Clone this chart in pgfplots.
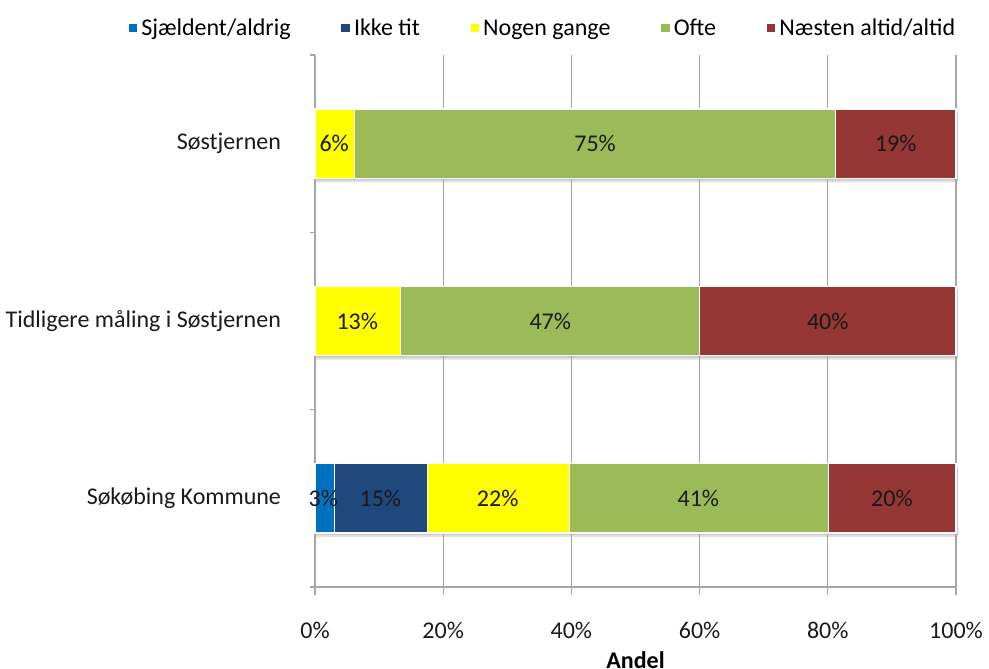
\documentclass[border=0pt]{standalone}
\usepackage{pgfplots}
\pgfplotsset{compat=1.18}
\usepackage{fontspec}
\setmainfont{Carlito}
\definecolor{cA}{HTML}{0070C0}
\definecolor{cB}{HTML}{1F497D}
\definecolor{cC}{HTML}{FFFF00}
\definecolor{cD}{HTML}{9BBB59}
\definecolor{cE}{HTML}{953735}
\definecolor{gridc}{HTML}{A6A6A6}
\definecolor{txt}{HTML}{1A1A1A}
\pgfplotsset{commonax/.style={
  at={(236.25pt,60.75pt)}, anchor=south west,
  scale only axis, width=480.75pt, height=399pt,
  xmin=0, xmax=100, ymin=-0.5, ymax=2.5}}
\begin{document}
\begin{tikzpicture}
\begin{axis}[commonax, hide axis, clip=false, xbar, bar width=52pt]
\addplot[draw=none, fill=black, fill opacity=0.12, bar shift=-3pt] coordinates {(100.3,0) (100.3,1) (100.3,2)};
\addplot[draw=none, fill=black, fill opacity=0.10, bar shift=-1.5pt] coordinates {(100.3,0) (100.3,1) (100.3,2)};
\end{axis}
\begin{axis}[commonax,
  xbar stacked, bar width=52pt,
  axis x line*=bottom, axis y line*=left,
  axis line style={draw=gridc, line width=0.8pt},
  xtick={0,20,40,60,80,100},
  xticklabel={\pgfmathprintnumber{\tick}\%},
  /pgf/number format/assume math mode=true,
  xmajorgrids, grid style={draw=gridc, line width=0.8pt},
  tick align=outside, major tick length=6pt,
  tick style={draw=gridc, line width=0.8pt},
  ytick={0,1,2},
  yticklabels={Søkøbing Kommune, Tidligere måling i Søstjernen, Søstjernen},
  y tick style={draw=none},
  extra y ticks={-0.5,0.5,1.5,2.5}, extra y tick labels={},
  extra y tick style={y tick style={draw=gridc}, major tick length=4pt, grid=none},
  ticklabel style={font=\fontsize{18}{21}\selectfont, text=txt},
  xticklabel style={yshift=-17pt},
  yticklabel style={xshift=-16pt},
  xlabel={\textbf{Andel}}, xlabel style={font=\fontsize{18}{21}\selectfont, yshift=-3pt},
  legend style={draw=none, at={(0.355,1.05)}, anchor=center, legend columns=5,
    font=\fontsize{18}{21}\selectfont,
    /tikz/every even column/.append style={column sep=35pt}},
  legend image code/.code={\fill[#1] (0pt,-3.5pt) rectangle (7.5pt,4pt);},
  every axis plot/.append style={draw=white, line width=1pt},
  clip=false,
]
\addplot[fill=cA] coordinates {(3.0,0) (0,1) (0,2)};
\addplot[fill=cB] coordinates {(14.5,0) (0,1) (0,2)};
\addplot[fill=cC] coordinates {(22.2,0) (13.3,1) (6.2,2)};
\addplot[fill=cD] coordinates {(40.4,0) (46.7,1) (75.0,2)};
\addplot[fill=cE] coordinates {(19.9,0) (40.0,1) (18.8,2)};
\legend{Sjældent/aldrig, Ikke tit, Nogen gange, Ofte, Næsten altid/altid}
\end{axis}
\begin{axis}[commonax, hide axis, clip=false]
\addplot[draw=none, mark=none, only marks,
  nodes near coords, point meta=explicit symbolic,
  every node near coord/.append style={anchor=center, font=\fontsize{18}{21}\selectfont, text=txt}]
  table[x=x, y=y, meta=l] {
x y l
1.3 0 3\%
10.2 0 15\%
28.5 0 22\%
59.8 0 41\%
90.0 0 20\%
6.6 1 13\%
36.7 1 47\%
80.0 1 40\%
3.0 2 6\%
43.7 2 75\%
90.6 2 19\%
};
\end{axis}
\pgfresetboundingbox
\path[use as bounding box] (0,0) rectangle (741.75pt,501pt);
\end{tikzpicture}
\end{document}
